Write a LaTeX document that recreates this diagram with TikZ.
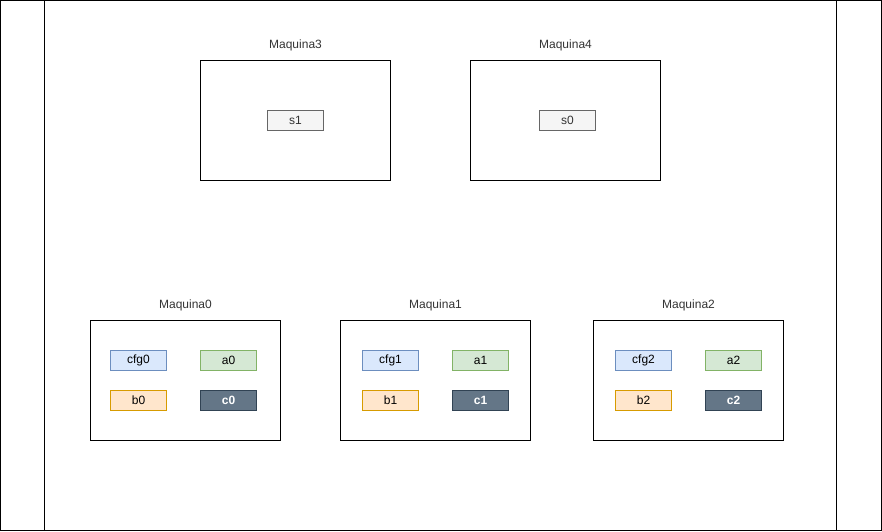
\documentclass[tikz,border=0pt]{standalone}
\usepackage{fontspec}
\setmainfont{Liberation Sans}
\definecolor{cfgfill}{HTML}{DAE8FC}\definecolor{cfgline}{HTML}{6C8EBF}
\definecolor{afill}{HTML}{D5E8D4}\definecolor{aline}{HTML}{82B366}
\definecolor{bfill}{HTML}{FFE6CC}\definecolor{bline}{HTML}{D79B00}
\definecolor{cfill}{HTML}{647687}\definecolor{cline}{HTML}{314354}
\definecolor{sfill}{HTML}{F5F5F5}\definecolor{sline}{HTML}{666666}
\definecolor{txt}{HTML}{333333}
\tikzset{
  machine/.style={draw=black, line width=1pt, minimum width=190pt, minimum height=120pt, inner sep=0pt},
  mlabel/.style={font=\fontsize{12pt}{14pt}\selectfont, text=txt, inner sep=0pt},
  item/.style={line width=1pt, minimum width=56pt, minimum height=20pt, inner sep=0pt, font=\fontsize{12pt}{14pt}\selectfont},
  cfgbox/.style={item, draw=cfgline, fill=cfgfill},
  abox/.style={item, draw=aline, fill=afill},
  bbox/.style={item, draw=bline, fill=bfill},
  cbox/.style={item, draw=cline, fill=cfill, text=white, font=\fontsize{12pt}{14pt}\selectfont\bfseries},
  sbox/.style={item, draw=sline, fill=sfill, text=txt},
}
\begin{document}
\begin{tikzpicture}[x=1pt,y=-1pt]
\useasboundingbox (0,0) rectangle (882,531);
\draw[line width=1pt] (0.5,0.5) rectangle (881,530.5);
\coordinate (lt) at (44,0.5); \coordinate (lb) at (44,530.5);
\coordinate (rt) at (836,0.5); \coordinate (rb) at (836,530.5);
\draw[line width=1pt] (lt) -- (lb);
\draw[line width=1pt] (rt) -- (rb);
% top machines
\node[machine] (m3) at (295.5,120.5) {};
\node[mlabel] (l3) at (295.5,45) {Maquina3};
\node[sbox] (s1) at (295.5,120.5) {s1};
\node[machine] (m4) at (565.5,120.5) {};
\node[mlabel] (l4) at (565.5,45) {Maquina4};
\node[sbox] (s0) at (567.5,120.5) {s0};
% bottom machines
\node[machine] (m0) at (185.5,380.5) {};
\node[mlabel] (l0) at (185.5,305) {Maquina0};
\node[cfgbox] (cfg0) at (138.5,360.5) {cfg0};
\node[abox] (a0) at (228.5,360.5) {a0};
\node[bbox] (b0) at (138.5,400.5) {b0};
\node[cbox] (c0) at (228.5,400.5) {c0};
\node[machine] (m1) at (435.5,380.5) {};
\node[mlabel] (l1) at (435.5,305) {Maquina1};
\node[cfgbox] (cfg1) at (390.5,360.5) {cfg1};
\node[abox] (a1) at (480.5,360.5) {a1};
\node[bbox] (b1) at (390.5,400.5) {b1};
\node[cbox] (c1) at (480.5,400.5) {c1};
\node[machine] (m2) at (688.5,380.5) {};
\node[mlabel] (l2) at (688.5,305) {Maquina2};
\node[cfgbox] (cfg2) at (643.5,360.5) {cfg2};
\node[abox] (a2) at (733.5,360.5) {a2};
\node[bbox] (b2) at (643.5,400.5) {b2};
\node[cbox] (c2) at (733.5,400.5) {c2};
\end{tikzpicture}
\end{document}
